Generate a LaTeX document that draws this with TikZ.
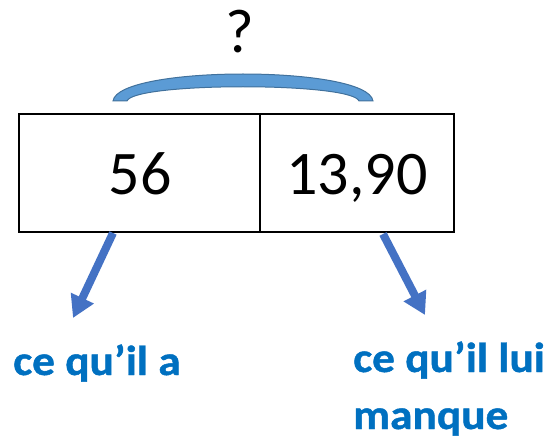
\documentclass[tikz,border=0pt]{standalone}
\usepackage{fontspec}
\setmainfont{Carlito}
\newfontfamily\lblfont[FakeStretch=1.08,FakeBold=1]{Carlito Bold}
\usetikzlibrary{arrows.meta}
\definecolor{bracefill}{HTML}{5B9BD5}
\definecolor{bracedraw}{HTML}{41719C}
\definecolor{arrowblue}{HTML}{4472C4}
\definecolor{labelblue}{HTML}{0070C0}
\begin{document}
\begin{tikzpicture}[x=1pt,y=-1pt,
  cell/.style={draw=black,line width=2pt,minimum height=118pt,inner sep=0pt},
  num/.style={font=\fontsize{62}{62}\selectfont,anchor=base},
  lbl/.style={font=\lblfont\fontsize{42}{50}\selectfont,text=labelblue,inner sep=0pt,align=left},
  bluearrow/.style={draw=arrowblue,line width=8pt,-{Triangle[width=24pt,length=22pt]}}]
\useasboundingbox (0,0) rectangle (557,441);
% boxes
\node[cell,minimum width=241pt] (left) at (139.5,173) {};
\node[cell,minimum width=194pt] (right) at (357,173) {};
\node[num] (n1) at (140,194) {56};
\node[num] (n2) at (357,194) {13,90};
% question mark
\node[font=\fontsize{62}{62}\selectfont,anchor=base] (q) at (240,53) {?};
% brace
\path[fill=bracefill,draw=bracedraw,line width=1pt]
  (113,101) .. controls (118,65) and (368,65) .. (373,101)
  -- (359,101) .. controls (352,82) and (134,82) .. (127,101) -- cycle;
% arrows
\coordinate (a1) at (113,233);
\coordinate (t1) at (73,318);
\coordinate (a2) at (383,234);
\coordinate (t2) at (425,315);
\draw[bluearrow] (a1) -- (t1);
\draw[bluearrow] (a2) -- (t2);
% labels
\node[lbl,anchor=base west] (l1) at (13,375) {ce qu’il a};
\node[lbl,anchor=base west] (l2) at (353,372) {ce qu’il lui};
\node[lbl,anchor=base west] (l3) at (353,429) {manque};
\end{tikzpicture}
\end{document}
